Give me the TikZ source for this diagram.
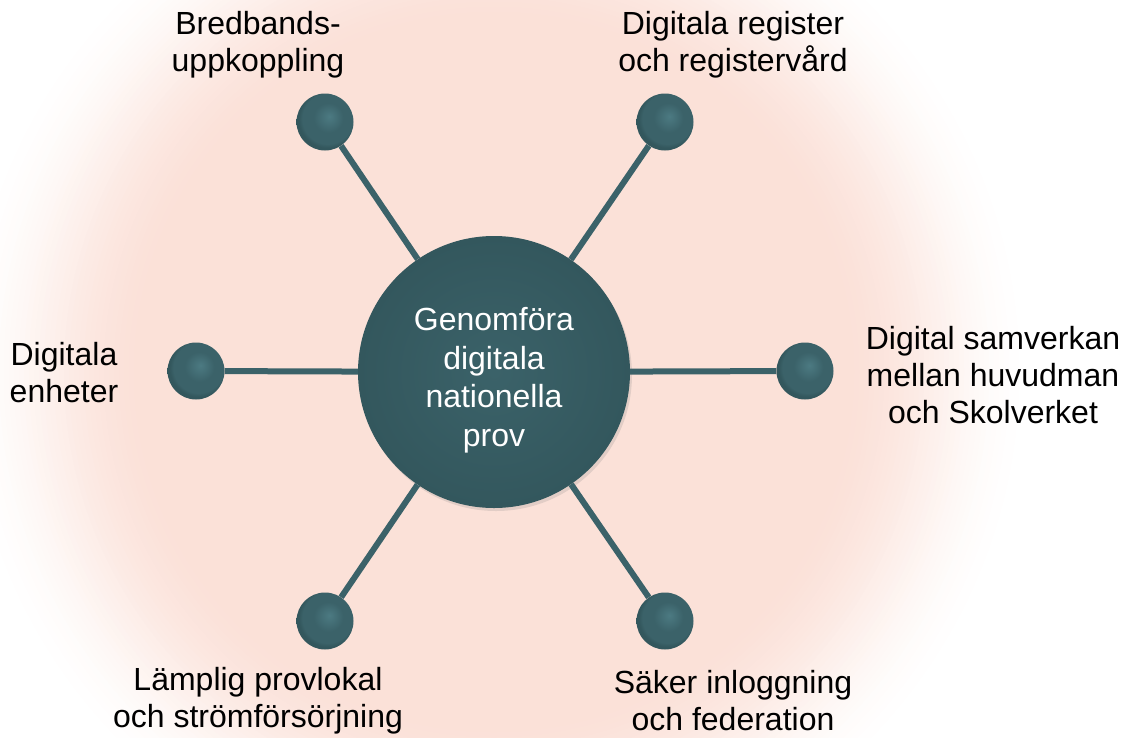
\documentclass[tikz,border=0pt]{standalone}
\usepackage{fontspec}
\setmainfont{Liberation Sans}
\usetikzlibrary{shadows}
\definecolor{tealc}{HTML}{3B6269}
\definecolor{tealdark}{HTML}{33575D}
\definecolor{teallight}{HTML}{4C7A82}
\definecolor{pinkc}{HTML}{FBE1D8}
\pgfdeclareradialshading{ballsh}{\pgfpoint{4bp}{5bp}}{color(0bp)=(teallight); color(13bp)=(tealc); color(22bp)=(tealc); color(25bp)=(tealdark); color(50bp)=(tealdark)}
\tikzset{
  lbl/.style={font=\fontsize{32}{37}\selectfont, align=center, text=black},
  hub/.style={circle, minimum size=272pt, inner sep=0pt, inner color=tealc, outer color=tealdark,
              drop shadow={opacity=0.2, shadow xshift=2pt, shadow yshift=-3pt}},
  hubtext/.style={font=\fontsize{32}{38.5}\selectfont, align=center, text=white},
  knob/.style={circle, minimum size=57pt, inner sep=0pt, shading=ballsh},
  spoke/.style={line width=6pt, tealc}
}
\begin{document}
\begin{tikzpicture}[x=1pt,y=-1pt]
\useasboundingbox (0,0) rectangle (1124,737);
\begin{scope}
\clip (0,0) rectangle (1124,737);
\fill[white] (0,0) rectangle (1124,737);
\foreach \i in {0,...,38} {
  \pgfmathsetmacro{\rr}{540-5*\i}
  \pgfmathsetmacro{\pp}{100*(\i/38)*(\i/38)*(3-2*\i/38)}
  \fill[pinkc!\pp!white] (494,372) circle (\rr);
}
\end{scope}
\node[hub] (c) at (494,372) {};
\node[knob] (tl) at (325,122) {};
\node[knob] (tr) at (665,122) {};
\node[knob] (l) at (196,371) {};
\node[knob] (r) at (805,371) {};
\node[knob] (bl) at (325,621) {};
\node[knob] (br) at (665,621) {};
\draw[spoke] (tl) -- (c);
\draw[spoke] (tr) -- (c);
\draw[spoke] (l) -- (c);
\draw[spoke] (r) -- (c);
\draw[spoke] (bl) -- (c);
\draw[spoke] (br) -- (c);
\node[hubtext] (ct) at (494,380) {Genomföra\\digitala\\nationella\\prov};
\node[lbl] (ttl) at (258,45) {Bredbands-\\uppkoppling};
\node[lbl] (ttr) at (733,45) {Digitala register\\och registervård};
\node[lbl] (tl2) at (64,373) {Digitala\\enheter};
\node[lbl] (tr2) at (993,375) {Digital samverkan\\mellan huvudman\\och Skolverket};
\node[lbl] (tbl) at (258,701) {Lämplig provlokal\\och strömförsörjning};
\node[lbl] (tbr) at (733,701) {Säker inloggning\\och federation};
\end{tikzpicture}
\end{document}
